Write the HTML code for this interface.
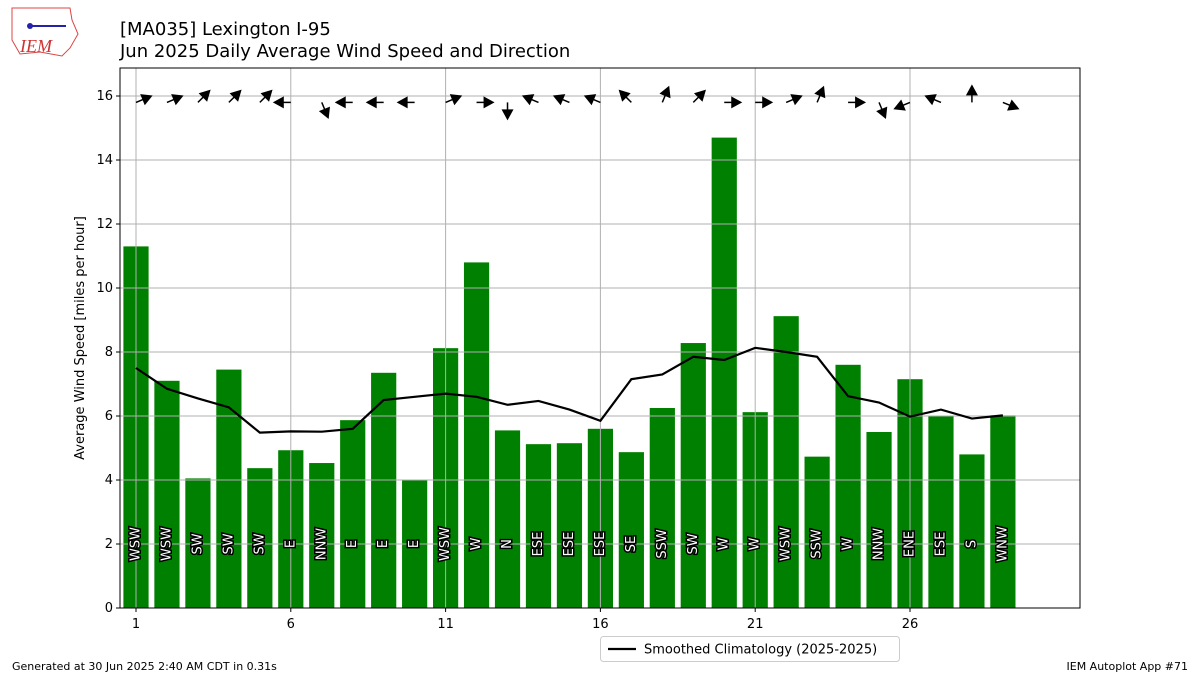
<!DOCTYPE html>
<html><head><meta charset="utf-8"><style>
body{margin:0;background:#fff;font-family:"Liberation Sans","DejaVu Sans",sans-serif}
</style></head><body>
<svg id="c" width="1200" height="675" xmlns="http://www.w3.org/2000/svg" font-family="DejaVu Sans, Liberation Sans, sans-serif">
<g>
<path d="M12,8 L70,8 L72,20 L78,34 L70,48 L62,56 L40,52 L20,54 L12,40 Z" fill="none" stroke="#d44" stroke-width="1"/>
<line x1="30" y1="26" x2="66" y2="26" stroke="#22a" stroke-width="2"/>
<circle cx="30" cy="26" r="3" fill="#22a"/>
<text x="20" y="52" font-family="Liberation Serif, serif" font-style="italic" font-size="18" fill="#c33">IEM</text>
</g>
<text x="120" y="35" font-size="18">[MA035] Lexington I-95</text>
<text x="120" y="57" font-size="18">Jun 2025 Daily Average Wind Speed and Direction</text>
<g id="plot"></g>
<text x="12" y="670" font-size="11">Generated at 30 Jun 2025 2:40 AM CDT in 0.31s</text>
<text x="1188" y="670" font-size="11" text-anchor="end">IEM Autoplot App #71</text>
</svg>
<script>
const days=[1,2,3,4,5,6,7,8,9,10,11,12,13,14,15,16,17,18,19,20,21,22,23,24,25,26,27,28,29];
const speeds=[11.3,7.1,4.05,7.45,4.37,4.93,4.53,5.87,7.35,4.0,8.12,10.8,5.55,5.12,5.15,5.6,4.87,6.25,8.28,14.7,6.12,9.12,4.73,7.6,5.5,7.15,6.0,4.8,6.02];
const dirs=["WSW","WSW","SW","SW","SW","E","NNW","E","E","E","WSW","W","N","ESE","ESE","ESE","SE","SSW","SW","W","W","WSW","SSW","W","NNW","ENE","ESE","S","WNW"];
const clim=[7.5,6.85,6.55,6.27,5.48,5.52,5.51,5.6,6.5,6.6,6.7,6.6,6.35,6.47,6.2,5.85,7.15,7.3,7.85,7.75,8.13,8.0,7.85,6.62,6.42,5.98,6.2,5.92,6.02];
const yTicks=[0,2,4,6,8,10,12,14,16];
const xTicks=[1,6,11,16,21,26];
const L=120,R=1080,T=68,B=608;
const x=d=>136+(d-1)*30.96;
const y=v=>608-v*32;
const comp={N:0,NNE:22.5,NE:45,ENE:67.5,E:90,ESE:112.5,SE:135,SSE:157.5,S:180,SSW:202.5,SW:225,WSW:247.5,W:270,WNW:292.5,NW:315,NNW:337.5};
const NS="http://www.w3.org/2000/svg";
const g=document.getElementById('plot');
function mk(t,a,p){const e=document.createElementNS(NS,t);for(const k in a)e.setAttribute(k,a[k]);(p||g).appendChild(e);return e;}
days.forEach((d,i)=>{const r=mk('rect',{x:x(d)-12.6,y:y(speeds[i]),width:25.2,height:B-y(speeds[i]),fill:'#008000'});

});
yTicks.forEach(v=>{const l=mk('line',{x1:L,x2:R,y1:y(v),y2:y(v),stroke:'#b0b0b0','stroke-width':1});


mk('line',{x1:L-4,x2:L,y1:y(v),y2:y(v),stroke:'#000'});
const t=mk('text',{x:L-7,y:y(v)+4,'font-size':13,'text-anchor':'end'});t.textContent=v;

});
xTicks.forEach(d=>{const l=mk('line',{x1:x(d),x2:x(d),y1:T,y2:B,stroke:'#b0b0b0','stroke-width':1});


mk('line',{x1:x(d),x2:x(d),y1:B,y2:B+4,stroke:'#000'});
const t=mk('text',{x:x(d),y:B+20,'font-size':13,'text-anchor':'middle'});t.textContent=d;

});
days.forEach((d,i)=>{const t=mk('text',{x:0,y:0,'font-size':13,'text-anchor':'middle','dominant-baseline':'central',fill:'#fff',stroke:'#000','stroke-width':3,'paint-order':'stroke',transform:`translate(${x(d)},${y(2)}) rotate(-90)`});t.textContent=dirs[i];

});
days.forEach((d,i)=>{const a=(comp[dirs[i]]+180)*Math.PI/180;const dx=Math.sin(a),dy=-Math.cos(a);
const x0=x(d),y0=y(15.8),len=18,x1=x0+dx*len,y1=y0+dy*len;
const ar=mk('g',{});


mk('line',{x1:x0,y1:y0,x2:x1-dx*8,y2:y1-dy*8,stroke:'#000','stroke-width':1.5},ar);
const px=-dy,py=dx;
mk('polygon',{points:`${x1},${y1} ${x1-dx*11+px*6},${y1-dy*11+py*6} ${x1-dx*11-px*6},${y1-dy*11-py*6}`,fill:'#000'},ar);});
const pl=mk('polyline',{points:days.map((d,i)=>x(d)+','+y(clim[i])).join(' '),fill:'none',stroke:'#000','stroke-width':2.2});


const fr=mk('rect',{x:L,y:T,width:R-L,height:B-T,fill:'none',stroke:'#000','stroke-width':1});


const yl=mk('text',{x:0,y:0,'font-size':13,'text-anchor':'middle',transform:`translate(84,${(T+B)/2}) rotate(-90)`});yl.textContent='Average Wind Speed [miles per hour]';


const lg=mk('g',{});


mk('rect',{x:600.5,y:636.5,width:299,height:25,rx:3,fill:'#fff',stroke:'#ccc'},lg);
mk('line',{x1:608,x2:636,y1:649,y2:649,stroke:'#000','stroke-width':2.2},lg);
const lt=mk('text',{x:644,y:653.5,'font-size':13},lg);lt.textContent='Smoothed Climatology (2025-2025)';
</script>
</body></html>
